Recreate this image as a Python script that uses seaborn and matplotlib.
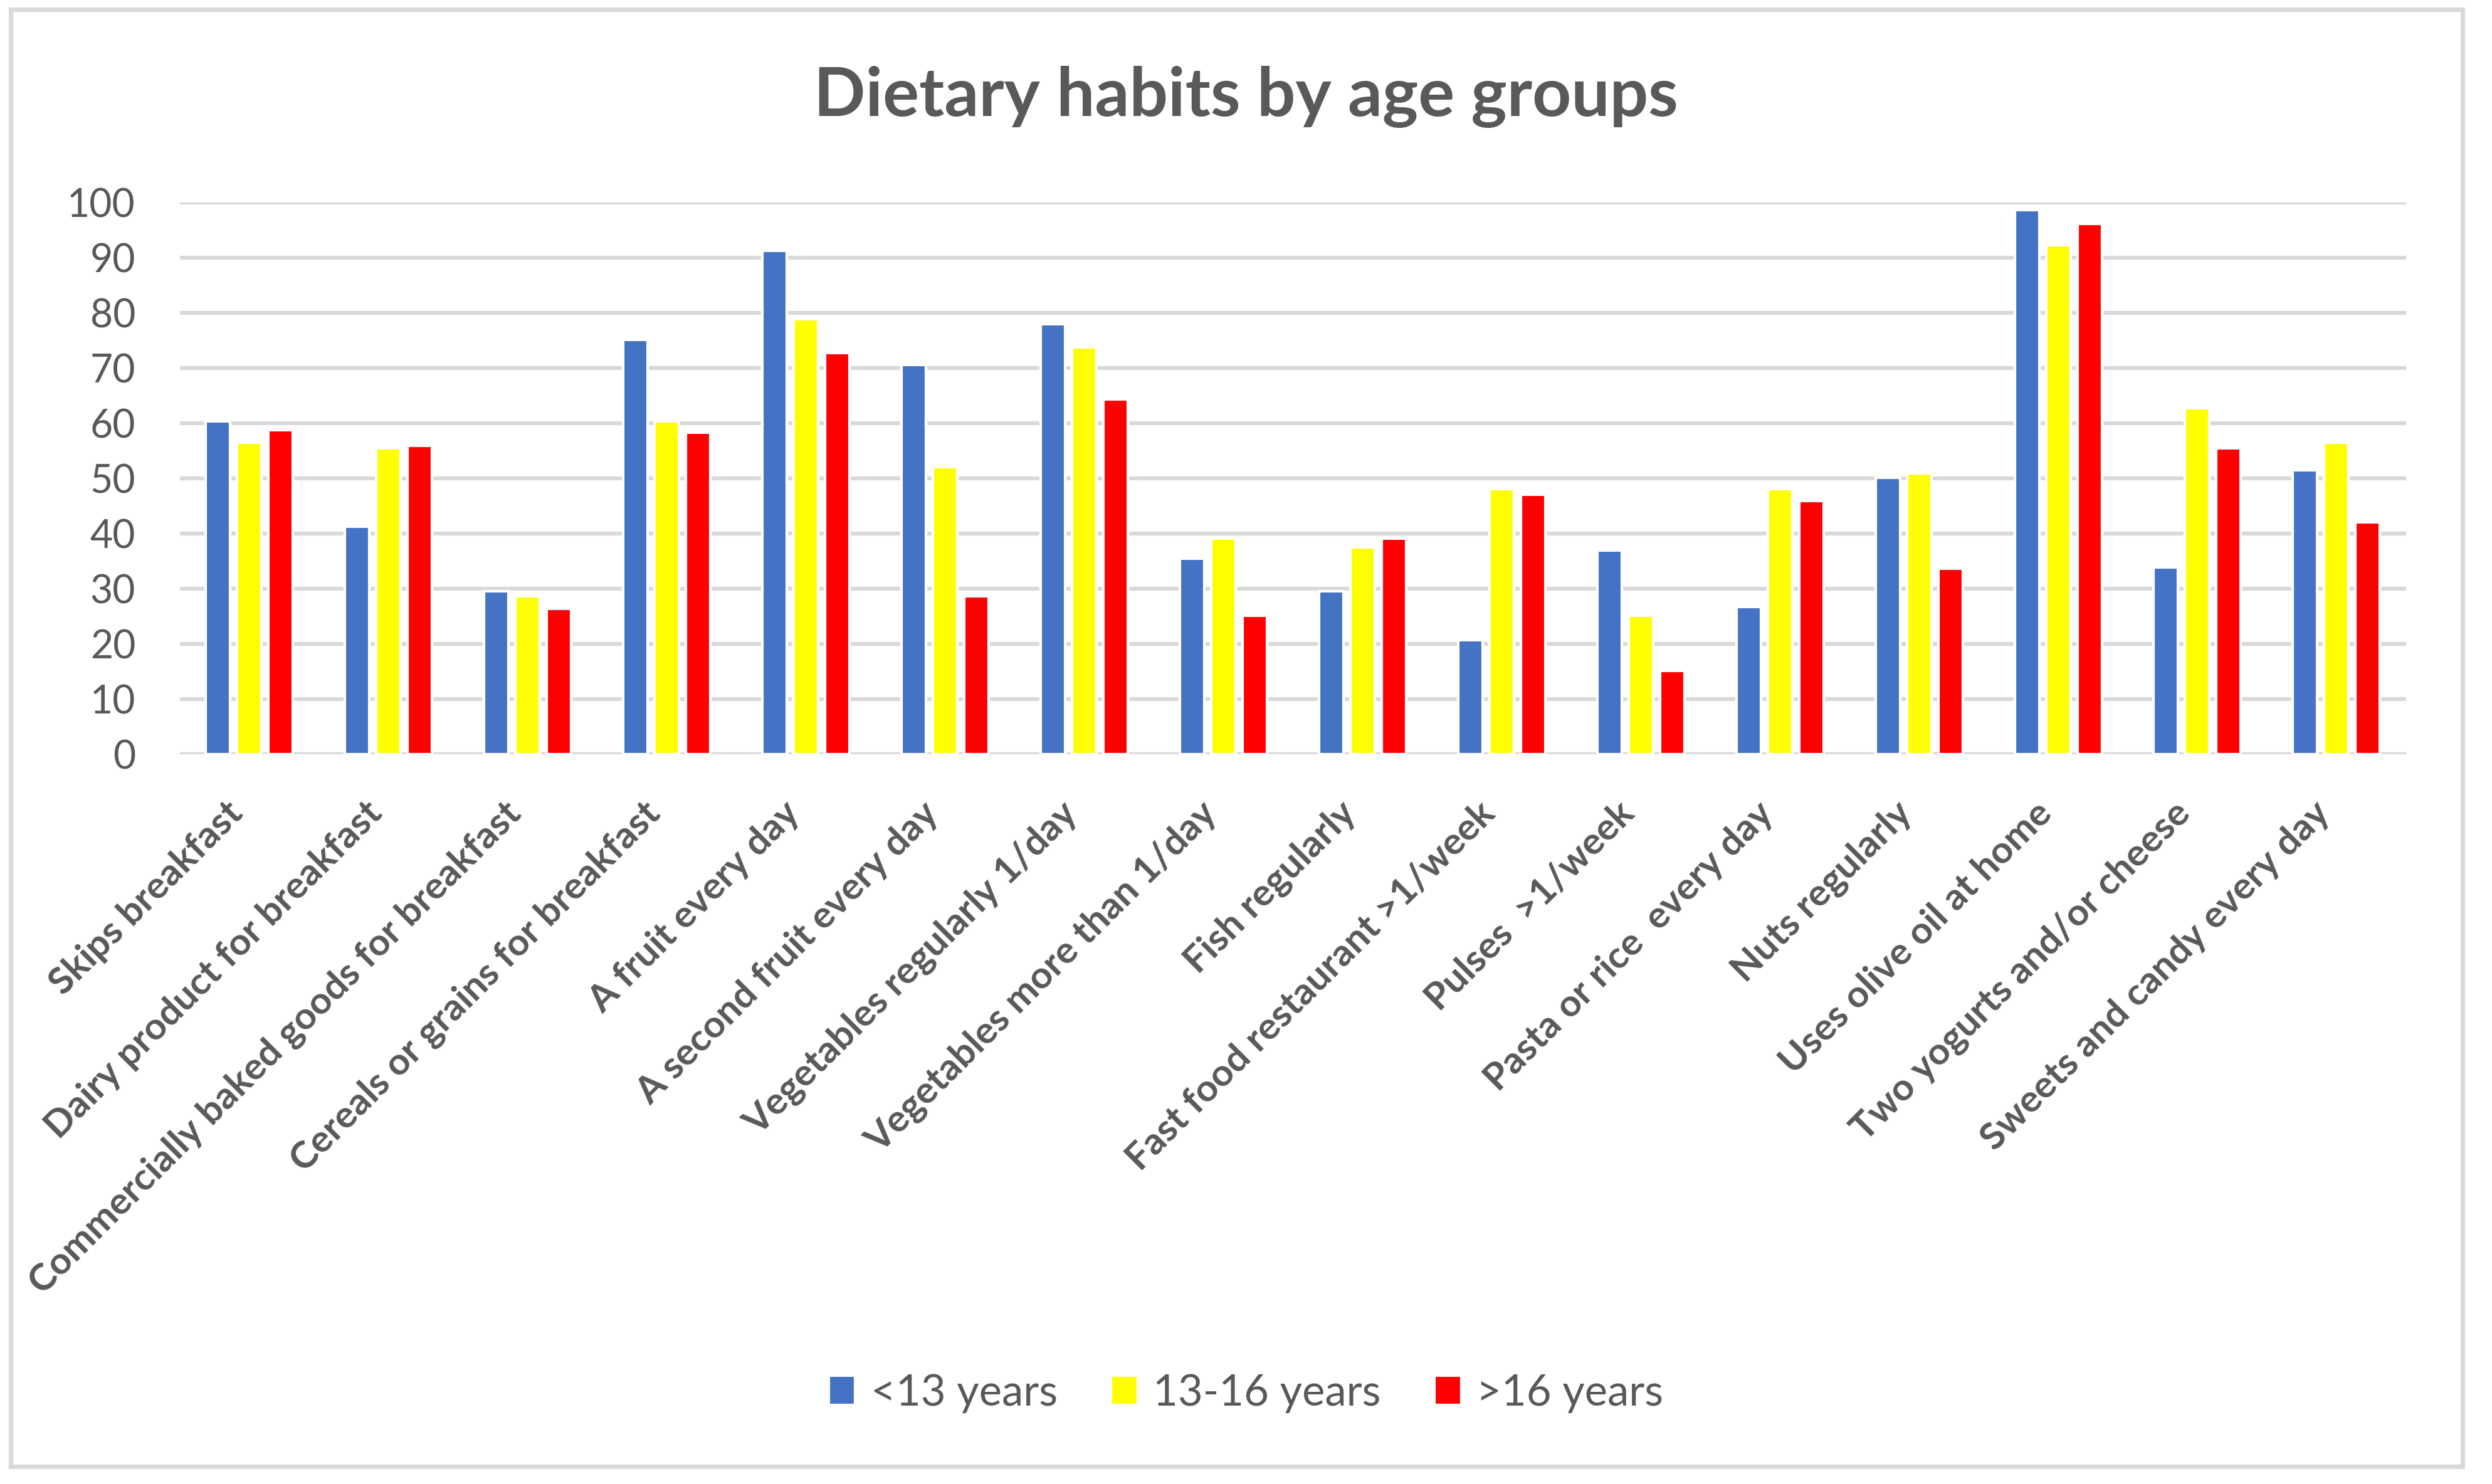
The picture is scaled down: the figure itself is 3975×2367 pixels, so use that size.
import pandas as pd
import matplotlib.pyplot as plt
import seaborn as sns
from matplotlib.patches import Rectangle

# categories on the x axis
items = ['Skips breakfast', 'Dairy product for breakfast',
         'Commercially baked goods for breakfast',
         'Cereals or grains for breakfast', 'A fruit every day',
         'A second fruit every day', 'Vegetables regularly 1/day',
         'Vegetables more than 1/day', 'Fish regularly',
         'Fast food restaurant >1/week', 'Pulses  >1/week',
         'Pasta or rice  every day', 'Nuts regularly',
         'Uses olive oil at home', 'Two yogurts and/or cheese',
         'Sweets and candy every day']

groups = ['<13 years', '13-16 years', '>16 years']

# percentages per age group
under_13 = [60.4, 41.3, 29.5, 75.1, 91.3, 70.6, 78.0, 35.4,
            29.5, 20.7, 36.9, 26.7, 50.1, 98.6, 33.9, 51.5]
age_13_16 = [56.5, 55.4, 28.6, 60.4, 78.9, 52.1, 73.8, 39.1,
             37.5, 48.1, 25.1, 48.1, 50.9, 92.3, 62.7, 56.5]
over_16 = [58.8, 55.9, 26.4, 58.3, 72.7, 28.6, 64.3, 25.1,
           39.1, 47.0, 15.1, 45.9, 33.6, 96.2, 55.4, 42.0]

colors = ['#4472C4', '#FFFF00', '#FF0000']
grey_text = '#595959'
grid_col = '#D9D9D9'

# long table for seaborn
df = pd.DataFrame({
    'item': items * 3,
    'group': [groups[0]] * 16 + [groups[1]] * 16 + [groups[2]] * 16,
    'pct': under_13 + age_13_16 + over_16,
})

sns.set_style('white')
plt.rcParams['font.family'] = ['Lato', 'DejaVu Sans']

fig = plt.figure(figsize=(13.25, 7.89), dpi=300)
ax = fig.add_axes([0.0722, 0.4918, 0.8933, 0.3717])

sns.barplot(data=df, x='item', y='pct', hue='group', order=items,
            hue_order=groups, palette=colors, saturation=1,
            width=0.676, gap=0.22, errorbar=None, ax=ax, zorder=3)

ax.set_ylim(0, 100)
ax.set_xlim(-0.5, len(items) - 0.5)
ax.set_yticks(range(0, 101, 10))
ax.yaxis.grid(True, color=grid_col, linewidth=1.5, zorder=0)
ax.set_axisbelow(True)
for s in ax.spines.values():
    s.set_visible(False)
ax.tick_params(axis='both', length=0)
ax.tick_params(axis='y', labelsize=15, labelcolor=grey_text, pad=17)
ax.set_xlabel('')
ax.set_ylabel('')

ax.set_xticks(range(len(items)))
ax.set_xticklabels(items, rotation=45, ha='right', va='top',
                   fontsize=14.5, fontweight='bold', color=grey_text)
ax.tick_params(axis='x', pad=16)

# title
fig.text(0.5, 1 - 155 / 2367, 'Dietary habits by age groups',
         ha='center', va='center', fontsize=26, fontweight='bold',
         color=grey_text)

# legend at the bottom
handles, labels = ax.get_legend_handles_labels()
ax.get_legend().remove()
fig.legend(handles, labels, loc='center', ncol=3,
           bbox_to_anchor=(0.5, 1 - 2222 / 2367), frameon=False,
           fontsize=16.5, labelcolor=grey_text, handlelength=0.62,
           handleheight=0.68, handletextpad=0.35, columnspacing=1.25)

# chart border
fig.patches.append(Rectangle((0.0043, 0.0118), 0.984, 0.982,
                             transform=fig.transFigure, fill=False,
                             edgecolor=grid_col, linewidth=1.7))

plt.savefig('out.png', dpi=300)
